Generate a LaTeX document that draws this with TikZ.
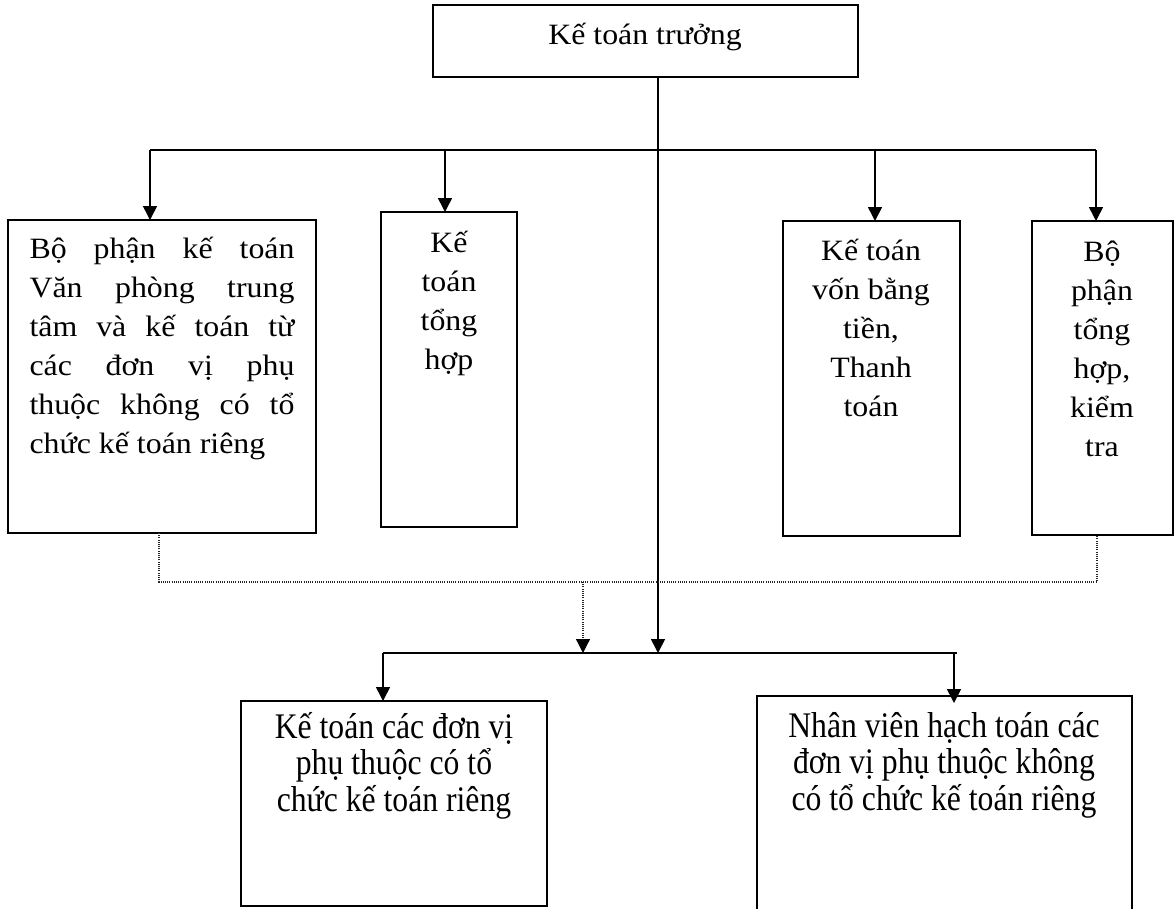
\documentclass[tikz,border=0pt]{standalone}
\usepackage{fontspec}
\setmainfont{Liberation Serif}
\newfontfamily\upfont[FakeStretch=1.08]{Liberation Serif}
\newfontfamily\lowfont[FakeStretch=0.88]{Liberation Serif}
\usetikzlibrary{arrows.meta}
\newcommand\uptext{\upfont\fontsize{29.5}{39}\selectfont}
\newcommand\lowtext{\lowfont\fontsize{36}{36.5}\selectfont}
\hbadness=10000

\begin{document}
\begin{tikzpicture}[x=1pt,y=-1pt,
  box/.style={draw, line width=1.6pt, rectangle, inner sep=0pt, outer sep=0pt, anchor=north west},
  lbl/.style={anchor=base, inner sep=0pt, outer sep=0pt},
  link/.style={line width=1.6pt},
  arr/.style={line width=1.6pt, -{Triangle[length=14pt,width=14pt]}},
  dots/.style={line width=1.2pt, dash pattern=on 1pt off 1.2pt, black!85}]

\path[use as bounding box] (0,0) rectangle (1175,908);
\clip (0,0) rectangle (1175,908);

% head of the department
\node[box, minimum width=425pt, minimum height=72pt] (top) at (433,5) {};
\node[lbl] (ttop) at (645,44) {\uptext Kế toán trưởng};

% upper row of sections
\node[box, minimum width=308pt, minimum height=313pt] (b1) at (8,220) {};
\node[lbl] (t1) at (162,258) {\parbox[t]{265pt}{\uptext
  Bộ phận kế toán\linebreak Văn phòng trung\linebreak tâm và kế toán từ\linebreak
  các đơn vị phụ\linebreak thuộc không có tổ\linebreak chức kế toán riêng}};

\node[box, minimum width=136pt, minimum height=315pt] (b2) at (381,212) {};
\node[lbl] (t2) at (449,252) {\parbox[t]{130pt}{\uptext\centering Kế\\toán\\tổng\\hợp}};

\node[box, minimum width=177pt, minimum height=315pt] (b3) at (783,221) {};
\node[lbl] (t3) at (871,260) {\parbox[t]{170pt}{\uptext\centering Kế toán\\vốn bằng\\tiền,\\Thanh\\toán}};

\node[box, minimum width=141pt, minimum height=314pt] (b4) at (1032,221) {};
\node[lbl] (t4) at (1102,261) {\parbox[t]{136pt}{\uptext\centering Bộ\\phận\\tổng\\hợp,\\kiểm\\tra}};

% lower row of units
\node[box, minimum width=306pt, minimum height=205pt] (b5) at (241,701) {};
\node[lbl] (t5) at (394,738) {\parbox[t]{300pt}{\lowtext\centering Kế toán các đơn vị\\phụ thuộc có tổ\\chức kế toán riêng}};

\node[box, minimum width=375pt, minimum height=240pt] (b6) at (757,696) {};
\node[lbl] (t6) at (944,737) {\parbox[t]{370pt}{\lowtext\centering Nhân viên hạch toán các\\đơn vị phụ thuộc không\\có tổ chức kế toán riêng}};

% main trunk
\coordinate (hub) at (658,653);
\draw[arr] (top.south -| hub) -- (hub);

% upper distribution bar
\coordinate (ul) at (150,150);
\coordinate (ur) at (1096,150);
\coordinate (d2) at (445,150);
\coordinate (d3) at (875,150);
\draw[link] (ul) -- (ur);
\draw[arr] (ul) -- (ul |- b1.north);
\draw[arr] (d2) -- (d2 |- b2.north);
\draw[arr] (d3) -- (d3 |- b3.north);
\draw[arr] (ur) -- (ur |- b4.north);

% dotted feedback from the outer sections
\coordinate (p1) at (159,582);
\coordinate (p2) at (1097,582);
\coordinate (pm) at (583,582);
\draw[dots] (p1 |- b1.south) -- (p1) -- (p2) -- (p2 |- b4.south);
\draw[dots, -{Triangle[length=14pt,width=14pt,black]}] (pm) -- (pm |- hub);

% lower distribution bar
\coordinate (ll) at (383,653);
\coordinate (lr) at (957,653);
\coordinate (d6) at (954,653);
\coordinate (d6e) at (954,703);
\draw[link] (ll) -- (lr);
\draw[arr] (ll) -- (ll |- b5.north);
\draw[arr] (d6) -- (d6e);
\end{tikzpicture}
\end{document}
